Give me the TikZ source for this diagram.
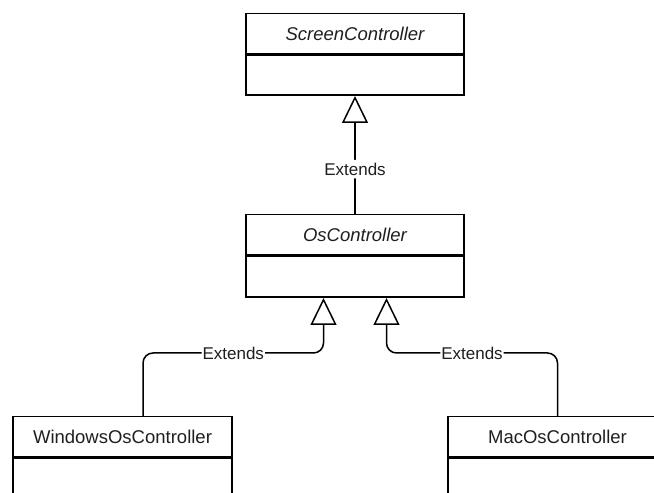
\documentclass[tikz,border=0pt]{standalone}
\usepackage{fontspec}
\setmainfont{Liberation Sans}
\usetikzlibrary{arrows.meta,calc}

\tikzset{
  hdr/.style={draw, line width=1.5pt, minimum width=218pt, minimum height=40pt,
              inner sep=0pt, anchor=north, font=\fontsize{18.5}{22}\selectfont, text=black!88},
  bdy/.style={draw, line width=1.5pt, minimum width=218pt, minimum height=40pt,
              inner sep=0pt, anchor=north},
  ext/.style={draw, line width=1.5pt, rounded corners=10pt,
              -{Triangle[open, length=27pt, width=26pt, line width=1.5pt]}},
  lbl/.style={fill=white, inner xsep=1pt, inner ysep=3pt, font=\fontsize{17}{20}\selectfont, text=black!88}
}

\begin{document}
\begin{tikzpicture}[x=1pt, y=1pt]
  \useasboundingbox (0,0) rectangle (654,493);

  % ScreenController
  \node[hdr] (sch) at (355,480) {\itshape ScreenController};
  \node[bdy] (scb) at (sch.south) {};

  % OsController
  \node[hdr] (osh) at (355,279) {\itshape OsController};
  \node[bdy, minimum height=41pt] (osb) at (osh.south) {};

  % WindowsOsController
  \node[hdr, minimum width=219pt] (winh) at (122.5,77) {WindowsOsController};
  \node[bdy, minimum width=219pt] (winb) at (winh.south) {};

  % MacOsController
  \node[hdr, minimum width=219pt] (mach) at (557.5,77) {MacOsController};
  \node[bdy, minimum width=219pt] (macb) at (mach.south) {};

  % connector end points
  \coordinate (wtop) at ([xshift=20.5pt]winh.north);
  \coordinate (mtop) at (mach.north);
  \coordinate (osL) at ([xshift=-31.5pt]osb.south);
  \coordinate (osR) at ([xshift=31.5pt]osb.south);
  \coordinate (yline) at (0,140);

  % generalisations
  \draw[ext] (osh.north) -- node[lbl, pos=0.38] {Extends} (scb.south);
  \draw[ext] (wtop) -- (wtop |- yline) -- node[lbl] {Extends} (osL |- yline) -- (osL);
  \draw[ext] (mtop) -- (mtop |- yline) -- node[lbl] {Extends} (osR |- yline) -- (osR);
\end{tikzpicture}
\end{document}
